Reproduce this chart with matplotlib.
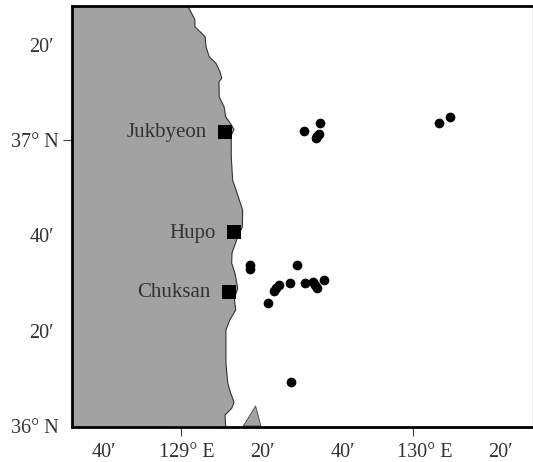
"""sampling stations off the korean east coast."""
import matplotlib
matplotlib.use("Agg")
import matplotlib.pyplot as plt
import matplotlib.transforms as mtransforms

coast_lon = [129.032, 129.046, 129.060, 129.060, 129.082, 129.104, 129.108, 129.122, 129.151, 129.168,
             129.176, 129.164, 129.165, 129.186, 129.193, 129.215, 129.229, 129.217, 129.217, 129.223,
             129.247, 129.266, 129.265, 129.240, 129.220, 129.219, 129.233, 129.245, 129.230, 129.236,
             129.211, 129.194, 129.194, 129.202, 129.215, 129.229, 129.219, 129.190, 129.193]
coast_lat = [37.464, 37.443, 37.420, 37.396, 37.379, 37.361, 37.326, 37.291, 37.268, 37.239,
             37.216, 37.204, 37.151, 37.116, 37.081, 37.056, 37.037, 37.017, 36.942, 36.860,
             36.802, 36.755, 36.697, 36.650, 36.604, 36.569, 36.534, 36.481, 36.447, 36.406,
             36.371, 36.336, 36.219, 36.149, 36.114, 36.083, 36.062, 36.038, 36.000]
island_lon = [129.269, 129.322, 129.345]
island_lat = [36.000, 36.070, 36.000]

point_lon = [129.532, 129.600, 129.597, 129.589, 129.581, 130.115, 130.161, 129.298, 129.298, 129.502, 129.617,
             129.535, 129.571, 129.578, 129.586, 129.472, 129.422, 129.412, 129.403, 129.375, 129.476]
point_lat = [37.030, 37.058, 37.021, 37.014, 37.006, 37.058, 37.079, 36.563, 36.548, 36.562, 36.510,
             36.501, 36.502, 36.493, 36.481, 36.501, 36.493, 36.483, 36.471, 36.429, 36.155]

station_names = ["Jukbyeon", "Hupo", "Chuksan"]
station_lon = [129.190, 129.229, 129.206]
station_lat = [37.029, 36.677, 36.469]

lon_ticks = [128 + 40 / 60, 129, 129 + 20 / 60, 129 + 40 / 60, 130, 130 + 20 / 60]
lon_labels = ["40′", "129° E", "20′", "40′", "130° E", "20′"]
lat_ticks = [37 + 20 / 60, 37, 36 + 40 / 60, 36 + 20 / 60, 36]
lat_labels = ["20′", "37° N", "40′", "20′", "36° N"]

LAND = "#a2a2a2"
TEXT = "#333333"
W, H = 533, 462

plt.rcParams["font.family"] = ["Liberation Serif", "DejaVu Serif"]
fig = plt.figure(figsize=(W / 100, H / 100), dpi=100)
ax = fig.add_axes([72 / W, 1 - 427 / H, 460 / W, 421 / H])
xlim = (128.5296, 130.515)
ylim = (35.9965, 37.4685)

# land runs off the left edge of the map
land_lon = [xlim[0], coast_lon[0]] + coast_lon + [xlim[0]]
land_lat = [ylim[1], ylim[1]] + coast_lat + [ylim[0]]
ax.fill(land_lon, land_lat, color=LAND, lw=0, zorder=1)
ax.plot([coast_lon[0]] + coast_lon, [ylim[1]] + coast_lat, color="#333333", lw=0.8, zorder=2)
ax.fill(island_lon, island_lat, facecolor=LAND, edgecolor="#444444", lw=0.6, zorder=2)

ax.plot(point_lon, point_lat, "o", color="black", ms=7.0, mew=0, zorder=4)
ax.plot(station_lon, station_lat, "s", color="black", ms=9.4, mew=0, zorder=4)
for name, lon, lat in zip(station_names, station_lon, station_lat):
    ax.annotate(name, (lon, lat), xytext=(-18, -1), textcoords="offset pixels",
                ha="right", va="center", fontsize=15, color=TEXT, zorder=5)

ax.set_xlim(xlim)
ax.set_ylim(ylim)
ax.set_xticks(lon_ticks, lon_labels, fontsize=14.5, color=TEXT)
ax.set_yticks(lat_ticks, lat_labels, fontsize=14.5, color=TEXT)
ax.tick_params(axis="x", length=6.5, width=0.8, color="#444444", pad=5)
ax.tick_params(axis="y", length=6.5, width=0.8, color="#444444", pad=3)

# only whole degrees get a tick mark, labels sit a bit off the ticks
for tick, dx in zip(ax.xaxis.get_major_ticks(), [0, 6, 4, 7, 12, 10]):
    if tick.get_loc() not in (129, 130):
        tick.tick1line.set_visible(False)
    offset = mtransforms.ScaledTranslation(dx / 100, 0, fig.dpi_scale_trans)
    tick.label1.set_transform(tick.label1.get_transform() + offset)
for tick, dx in zip(ax.yaxis.get_major_ticks(), [-5, 0, -5, -5, 0]):
    if tick.get_loc() != 37:
        tick.tick1line.set_visible(False)
    offset = mtransforms.ScaledTranslation(dx / 100, 0, fig.dpi_scale_trans)
    tick.label1.set_transform(tick.label1.get_transform() + offset)

for side in ["top", "left", "bottom"]:
    ax.spines[side].set_linewidth(2.0)
ax.spines["right"].set_linewidth(0.6)
ax.spines["right"].set_color("#e8e8e8")

fig.savefig("out.png", dpi=100)
